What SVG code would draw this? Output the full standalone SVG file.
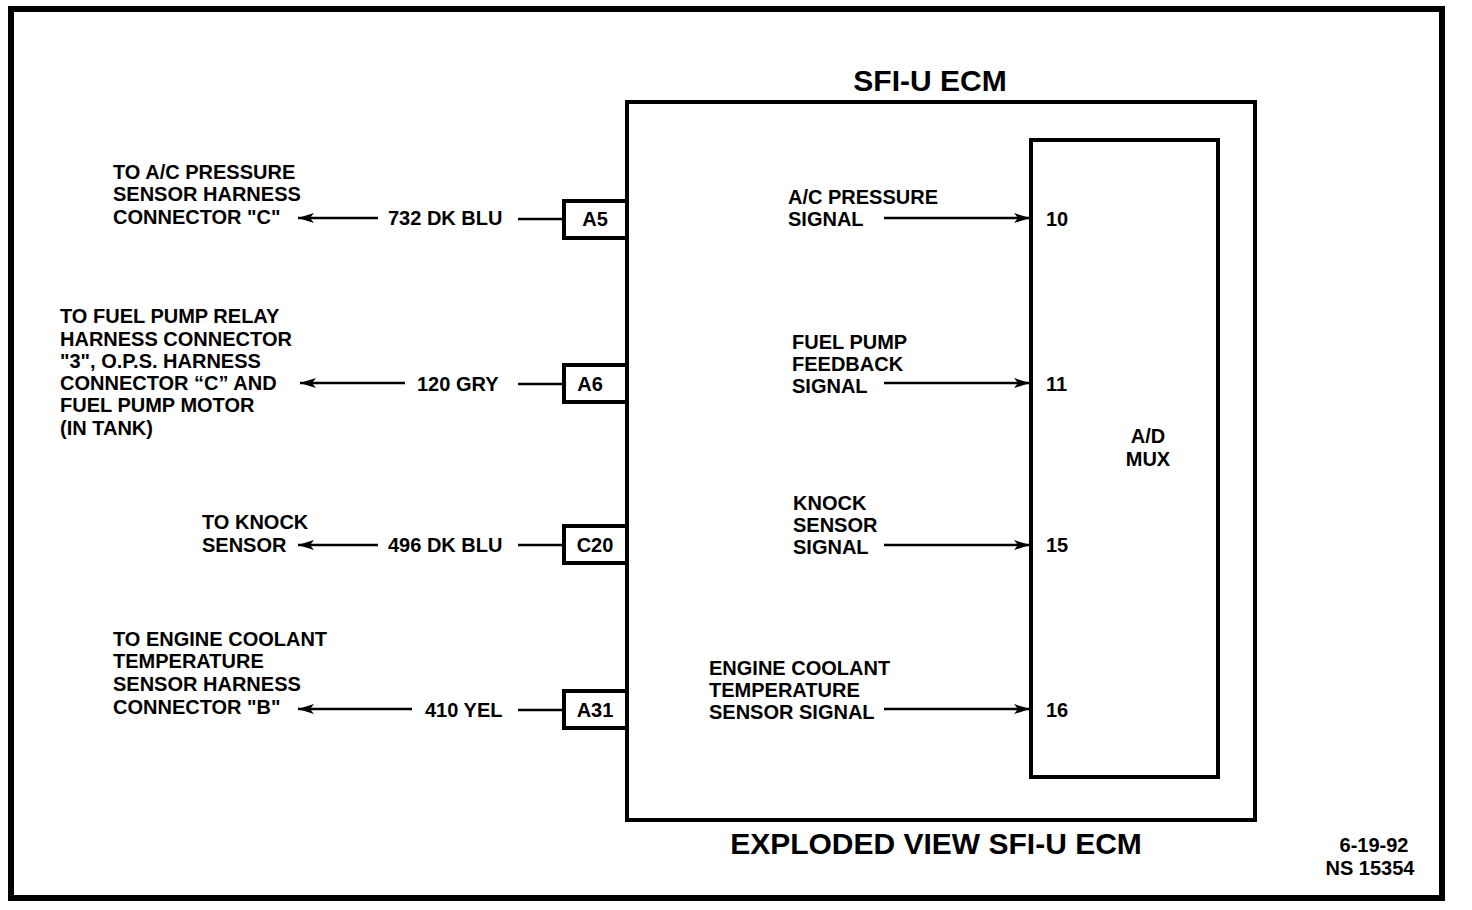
<svg xmlns="http://www.w3.org/2000/svg" width="1472" height="910" viewBox="0 0 1472 910">
<style>
text{font-family:"Liberation Sans",Arial,sans-serif;font-weight:bold;fill:#000;font-size:20px}
.big{font-size:30px}
.box{fill:#fff;stroke:#000;stroke-width:4}
.w{stroke:#000;stroke-width:2.5;fill:none}
</style>
<defs>
<marker id="ah" viewBox="0 0 16 10" refX="16" refY="5" markerWidth="16" markerHeight="10" markerUnits="userSpaceOnUse" orient="auto">
<path d="M0,0 L16,5 L0,10 L4,5 Z" fill="#000"/>
</marker>
</defs>
<rect x="11" y="9" width="1431" height="889" fill="#fff" stroke="#000" stroke-width="6"/>
<g id="ecm">
<rect class="box" x="627" y="102" width="628" height="718"/>
<text class="big" x="930" y="91" text-anchor="middle">SFI-U ECM</text>
<text class="big" x="936" y="854" text-anchor="middle">EXPLODED VIEW SFI-U ECM</text>
</g>
<g id="mux">
<rect class="box" x="1031" y="140" width="187" height="637"/>
<text x="1148" y="443" text-anchor="middle">A/D</text>
<text x="1148" y="466" text-anchor="middle">MUX</text>
<text x="1046" y="226">10</text>
<text x="1046" y="391">11</text>
<text x="1046" y="552">15</text>
<text x="1046" y="717">16</text>
</g>
<g id="pin-a5">
<rect class="box" x="564" y="201" width="63" height="37"/>
<text x="595" y="226" text-anchor="middle">A5</text>
</g>
<g id="pin-a6">
<rect class="box" x="564" y="365" width="63" height="37"/>
<text x="590" y="391" text-anchor="middle">A6</text>
</g>
<g id="pin-c20">
<rect class="box" x="564" y="526" width="63" height="37"/>
<text x="595" y="552" text-anchor="middle">C20</text>
</g>
<g id="pin-a31">
<rect class="box" x="564" y="691" width="63" height="37"/>
<text x="595" y="717" text-anchor="middle">A31</text>
</g>
<g id="dest-ac">
<text x="113" y="179">TO A/C PRESSURE</text>
<text x="113" y="201">SENSOR HARNESS</text>
<text x="113" y="224">CONNECTOR "C"</text>
</g>
<g id="dest-fuel">
<text x="60" y="323">TO FUEL PUMP RELAY</text>
<text x="60" y="346">HARNESS CONNECTOR</text>
<text x="60" y="368">"3", O.P.S. HARNESS</text>
<text x="60" y="390">CONNECTOR “C” AND</text>
<text x="60" y="412">FUEL PUMP MOTOR</text>
<text x="60" y="435">(IN TANK)</text>
</g>
<g id="dest-knock">
<text x="202" y="529">TO KNOCK</text>
<text x="202" y="552">SENSOR</text>
</g>
<g id="dest-ect">
<text x="113" y="646">TO ENGINE COOLANT</text>
<text x="113" y="668">TEMPERATURE</text>
<text x="113" y="691">SENSOR HARNESS</text>
<text x="113" y="714">CONNECTOR "B"</text>
</g>
<g id="sig-ac">
<text x="788" y="204">A/C PRESSURE</text>
<text x="788" y="226">SIGNAL</text>
</g>
<g id="sig-fuel">
<text x="792" y="349">FUEL PUMP</text>
<text x="792" y="371">FEEDBACK</text>
<text x="792" y="393">SIGNAL</text>
</g>
<g id="sig-knock">
<text x="793" y="510">KNOCK</text>
<text x="793" y="532">SENSOR</text>
<text x="793" y="554">SIGNAL</text>
</g>
<g id="sig-ect">
<text x="709" y="675">ENGINE COOLANT</text>
<text x="709" y="697">TEMPERATURE</text>
<text x="709" y="719">SENSOR SIGNAL</text>
</g>
<g id="wire-labels">
<text x="388" y="225">732 DK BLU</text>
<text x="417" y="391">120 GRY</text>
<text x="388" y="552">496 DK BLU</text>
<text x="425" y="717">410 YEL</text>
</g>
<g id="connectors">
<line class="w" x1="518" y1="219" x2="564" y2="219"/>
<line class="w" x1="378" y1="218" x2="298" y2="218" marker-end="url(#ah)"/>
<line class="w" x1="518" y1="384" x2="564" y2="384"/>
<line class="w" x1="405" y1="383" x2="300" y2="383" marker-end="url(#ah)"/>
<line class="w" x1="518" y1="545" x2="564" y2="545"/>
<line class="w" x1="378" y1="545" x2="298" y2="545" marker-end="url(#ah)"/>
<line class="w" x1="518" y1="710" x2="564" y2="710"/>
<line class="w" x1="412" y1="709" x2="298" y2="709" marker-end="url(#ah)"/>
<line class="w" x1="884" y1="218" x2="1030" y2="218" marker-end="url(#ah)"/>
<line class="w" x1="884" y1="383" x2="1030" y2="383" marker-end="url(#ah)"/>
<line class="w" x1="884" y1="545" x2="1030" y2="545" marker-end="url(#ah)"/>
<line class="w" x1="884" y1="709" x2="1030" y2="709" marker-end="url(#ah)"/>
</g>
<g id="stamp">
<text x="1374" y="852" text-anchor="middle">6-19-92</text>
<text x="1370" y="875" text-anchor="middle">NS 15354</text>
</g>
</svg>
